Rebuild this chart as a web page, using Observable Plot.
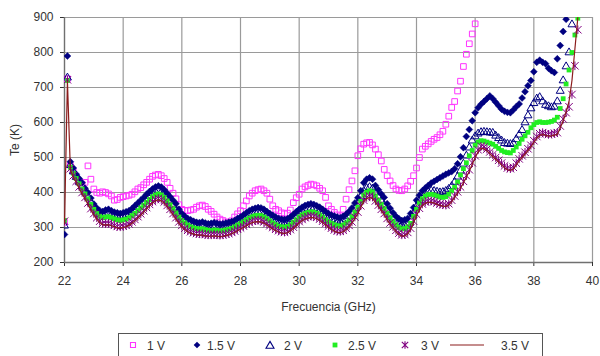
<!DOCTYPE html>
<html><head><meta charset="utf-8">
<script src="https://cdn.jsdelivr.net/npm/d3@7"></script>
<script src="https://cdn.jsdelivr.net/npm/@observablehq/plot@0.6"></script>
<style>
body{margin:0;background:#fff;font-family:"Liberation Sans",Arial,sans-serif;}
#wrap{position:relative;width:600px;height:356px;overflow:hidden;}
#legend{position:absolute;left:118px;top:333px;}
</style></head><body><div id="wrap"><div id="chart"></div><svg id="legend" width="425" height="30" xmlns="http://www.w3.org/2000/svg"></svg></div>
<script>
const freq = [22.0,22.1,22.2,22.3,22.4,22.5,22.6,22.7,22.8,22.9,
23.0,23.1,23.2,23.3,23.4,23.5,23.6,23.7,23.8,23.9,
24.0,24.1,24.2,24.3,24.4,24.5,24.6,24.7,24.8,24.9,
25.0,25.1,25.2,25.3,25.4,25.5,25.6,25.7,25.8,25.9,
26.0,26.1,26.2,26.3,26.4,26.5,26.6,26.7,26.8,26.9,
27.0,27.1,27.2,27.3,27.4,27.5,27.6,27.7,27.8,27.9,
28.0,28.1,28.2,28.3,28.4,28.5,28.6,28.7,28.8,28.9,
29.0,29.1,29.2,29.3,29.4,29.5,29.6,29.7,29.8,29.9,
30.0,30.1,30.2,30.3,30.4,30.5,30.6,30.7,30.8,30.9,
31.0,31.1,31.2,31.3,31.4,31.5,31.6,31.7,31.8,31.9,
32.0,32.1,32.2,32.3,32.4,32.5,32.6,32.7,32.8,32.9,
33.0,33.1,33.2,33.3,33.4,33.5,33.6,33.7,33.8,33.9,
34.0,34.1,34.2,34.3,34.4,34.5,34.6,34.7,34.8,34.9,
35.0,35.1,35.2,35.3,35.4,35.5,35.6,35.7,35.8,35.9,
36.0,36.1,36.2,36.3,36.4,36.5,36.6,36.7,36.8,36.9,
37.0,37.1,37.2,37.3,37.4,37.5,37.6,37.7,37.8,37.9,
38.0,38.1,38.2,38.3,38.4,38.5,38.6,38.7,38.8,38.9,
39.0,39.1,39.2,39.3,39.4,39.5];

const te1V = [315,725,478,460,445,432,424,429,476,438,
410,400,398,402,400,396,390,378,380,386,
388,390,392,395,402,410,414,422,429,438,
446,450,452,448,440,429,412,398,382,365,
352,349,348,350,352,358,362,364,360,352,
346,338,330,324,320,316,314,319,330,339,
348,362,376,390,398,405,408,410,405,398,
381,362,352,348,342,339,341,350,371,385,
395,410,416,420,424,422,419,412,405,386,
362,352,343,336,333,352,381,408,433,462,
505,525,538,542,543,536,524,508,490,466,
448,433,420,410,406,405,410,419,432,448,
470,500,524,532,539,546,552,557,565,575,
595,618,643,660,690,718,760,795,825,853,
882];

const te15V = [280,790,488,470,452,440,428,412,400,384,
367,356,348,346,350,352,348,344,342,340,
342,345,348,354,362,370,378,386,395,403,
410,416,419,416,408,398,388,378,368,352,
340,332,326,322,318,315,314,316,313,311,
312,314,312,310,311,313,315,317,320,326,
330,336,342,348,352,355,357,356,352,346,
340,335,330,326,324,323,325,330,337,345,
352,358,363,366,368,366,362,358,352,346,
340,336,333,330,328,332,338,346,356,370,
385,405,428,438,442,438,420,408,396,386,
368,355,342,332,325,320,322,326,340,357,
378,392,405,413,420,427,432,437,442,447,
452,456,460,468,482,502,528,560,580,605,
628,642,652,660,668,676,668,658,648,638,
632,629,628,636,645,653,670,688,705,720,
745,772,778,772,768,755,748,743,782,820,
860,895];

const te2V = [305,728,478,460,444,430,418,402,388,372,
358,346,338,336,338,340,337,334,332,330,
332,334,338,344,350,358,366,374,382,390,
398,403,405,402,396,386,375,364,352,340,
330,322,316,311,307,304,302,303,300,298,
298,300,298,297,298,300,302,305,308,314,
318,324,330,336,340,343,345,344,340,334,
328,322,317,313,311,310,312,317,324,332,
340,346,351,354,356,355,351,346,340,334,
328,323,319,316,315,318,324,332,342,355,
370,388,404,412,415,411,400,388,376,364,
350,337,325,316,309,305,306,310,322,340,
360,378,392,398,402,405,404,402,400,401,
404,410,418,430,445,462,482,505,528,548,
560,568,572,573,572,571,570,562,555,548,
541,539,538,540,552,565,578,600,620,640,
655,668,672,660,650,646,643,645,660,690,
720,760,800,880];

const te25V = [320,720,472,455,440,425,410,396,382,366,
352,340,332,328,330,331,328,325,322,320,
322,324,328,334,340,348,356,364,372,380,
388,393,396,393,386,376,365,354,342,330,
320,313,307,302,299,297,296,296,294,292,
291,293,292,290,291,293,295,298,302,307,
311,316,322,327,331,334,335,334,330,325,
319,313,308,304,302,301,303,308,315,322,
330,336,340,343,345,344,341,336,330,323,
317,312,308,305,304,307,313,321,331,344,
358,375,392,401,405,402,390,378,366,354,
340,328,318,308,300,296,297,302,312,332,
352,370,382,390,394,395,393,390,387,386,
388,395,405,415,430,450,468,485,505,520,
535,544,548,547,544,541,538,532,526,520,
516,514,513,520,530,540,552,562,572,585,
594,600,602,600,600,601,603,607,615,640,
668,710,750,800,850,898];

const te3V = [318,722,468,448,432,416,400,386,370,354,
340,328,318,312,311,312,310,306,303,302,
304,306,310,316,323,331,339,348,357,366,
374,380,383,380,373,363,352,340,328,316,
306,298,292,288,285,283,282,282,280,279,
279,280,279,278,279,281,283,286,290,295,
299,304,309,314,318,320,321,320,316,311,
305,300,295,291,288,287,289,294,301,309,
317,323,328,331,333,332,329,324,318,311,
304,298,293,290,289,292,298,306,316,330,
344,362,378,386,390,387,376,364,352,340,
326,313,302,292,284,279,280,286,298,318,
338,355,367,373,376,376,374,370,367,365,
364,368,378,390,402,416,432,448,465,485,
505,522,532,530,524,516,508,500,492,484,
476,470,468,472,484,496,505,515,525,535,
548,560,568,571,568,566,567,569,571,590,
610,628,645,680,762,865];

const te35V = [310,718,465,445,428,412,396,382,366,350,
336,324,314,308,307,308,305,302,299,298,
300,302,306,312,319,327,335,344,353,362,
370,376,379,376,369,359,348,336,324,312,
302,294,288,284,281,279,278,278,276,275,
275,276,275,274,275,277,279,282,286,291,
295,300,305,310,314,316,317,316,312,307,
301,296,291,287,284,283,285,290,297,305,
313,319,324,327,329,328,325,320,314,307,
300,294,289,286,285,288,294,302,312,326,
340,358,374,382,386,383,372,360,348,336,
322,309,298,288,280,275,276,282,294,314,
334,351,363,369,372,372,370,366,363,361,
360,364,374,386,398,412,428,444,461,481,
500,516,526,525,519,511,503,495,487,479,
471,465,463,467,479,491,500,510,520,530,
543,555,563,566,563,561,562,564,566,585,
605,630,660,720,810,900];

const seriesNames = ["1 V","1.5 V","2 V","2.5 V","3 V","3.5 V"];
const xTicks = [22,24,26,28,30,32,34,36,38,40];
const yTicks = [200,300,400,500,600,700,800,900];

const toRows = (vals) => vals.map((t, i) => ({f: freq[i], t}));
const d1 = toRows(te1V), d15 = toRows(te15V), d2 = toRows(te2V),
      d25 = toRows(te25V), d3 = toRows(te3V), d35 = toRows(te35V);

const starSymbol = {
  draw(ctx, size) {
    const r = Math.sqrt(size) * 0.62;
    ctx.moveTo(-r, -r); ctx.lineTo(r, r);
    ctx.moveTo(-r, r); ctx.lineTo(r, -r);
    ctx.moveTo(0, -r * 1.15); ctx.lineTo(0, r * 1.15);
  }
};

const C = {m: "#ff33ff", navy: "#000080", green: "#22ee22", purple: "#800080", red: "#8b1c1c", grid: "#9a9a9a", axis: "#707070"};

const chart = Plot.plot({
  width: 600,
  height: 328,
  marginTop: 17,
  marginLeft: 64,
  marginRight: 8,
  marginBottom: 66,
  style: {fontFamily: "'Liberation Sans', Arial, sans-serif", fontSize: "12px", color: "#333", background: "#fff"},
  x: {domain: [22, 40], ticks: xTicks, tickSize: 4, tickPadding: 10, label: "Frecuencia (GHz)", labelAnchor: "center", labelOffset: 48, labelArrow: "none"},
  y: {domain: [200, 900], ticks: yTicks, tickSize: 4, tickPadding: 7, label: "Te (K)", labelAnchor: "center", labelOffset: 54, labelArrow: "none"},
  marks: [
    Plot.ruleX(xTicks, {stroke: C.grid, strokeWidth: 1.2}),
    Plot.ruleY(yTicks, {stroke: C.grid, strokeWidth: 1.2}),
    Plot.ruleX([22], {stroke: C.axis, strokeWidth: 1.3}),
    Plot.ruleY([200], {stroke: C.axis, strokeWidth: 1.3}),
    Plot.dot(d1, {x: "f", y: "t", symbol: "square2", r: 3.6, stroke: C.m, fill: "none", strokeWidth: 1, clip: true}),
    Plot.dot(d15, {x: "f", y: "t", symbol: "diamond2", r: 3.1, fill: C.navy, stroke: C.navy, strokeWidth: 0.5, clip: true}),
    Plot.dot(d2, {x: "f", y: "t", symbol: "triangle2", r: 3.8, stroke: C.navy, fill: "none", strokeWidth: 1, clip: true}),
    Plot.dot(d25, {x: "f", y: "t", symbol: "square", r: 2.7, fill: C.green, stroke: "none", clip: true}),
    Plot.dot(d3, {x: "f", y: "t", symbol: starSymbol, r: 3.4, stroke: C.purple, fill: "none", strokeWidth: 1, clip: true}),
    Plot.line(d35, {x: "f", y: "t", stroke: C.red, strokeWidth: 1.2, clip: true})
  ]
});
document.getElementById("chart").appendChild(chart);

// legend (plain DOM)
const NS = "http://www.w3.org/2000/svg";
const lg = document.getElementById("legend");
function add(tag, attrs, text) {
  const el = document.createElementNS(NS, tag);
  for (const k in attrs) el.setAttribute(k, attrs[k]);
  if (text != null) el.textContent = text;
  lg.appendChild(el);
  return el;
}
add("rect", {x: 0.5, y: 0.5, width: 424, height: 40, fill: "#fff", stroke: "#555", "stroke-width": 1});
const symX = [15, 79, 152, 217, 287, 332];
const txtX = [29, 89, 166, 230, 303, 383];
const cy = 12;
const legendSymbols = [
  {d: "M-2.5,-2.5h5v5h-5z", fill: "none", stroke: C.m},
  {d: "M0,-3.3L3.3,0L0,3.3L-3.3,0Z", fill: C.navy, stroke: "none"},
  {d: "M0,-3.6L4,3.2L-4,3.2Z", fill: "none", stroke: C.navy},
  {d: "M-2.4,-2.4h4.8v4.8h-4.8z", fill: C.green, stroke: "none"},
  {d: "M-3.2,-3.2L3.2,3.2M-3.2,3.2L3.2,-3.2M0,-3.8V3.8", fill: "none", stroke: C.purple}
];
legendSymbols.forEach((s, i) => add("path", {d: s.d, transform: `translate(${symX[i]},${cy})`, fill: s.fill, stroke: s.stroke, "stroke-width": 1.1}));
add("line", {x1: symX[5], x2: symX[5] + 34, y1: cy, y2: cy, stroke: C.red, "stroke-width": 1.2});
seriesNames.forEach((n, i) => add("text", {x: txtX[i], y: cy + 4.5, "font-size": 12, "font-family": "'Liberation Sans', Arial, sans-serif", fill: "#333"}, n));
</script></body></html>
